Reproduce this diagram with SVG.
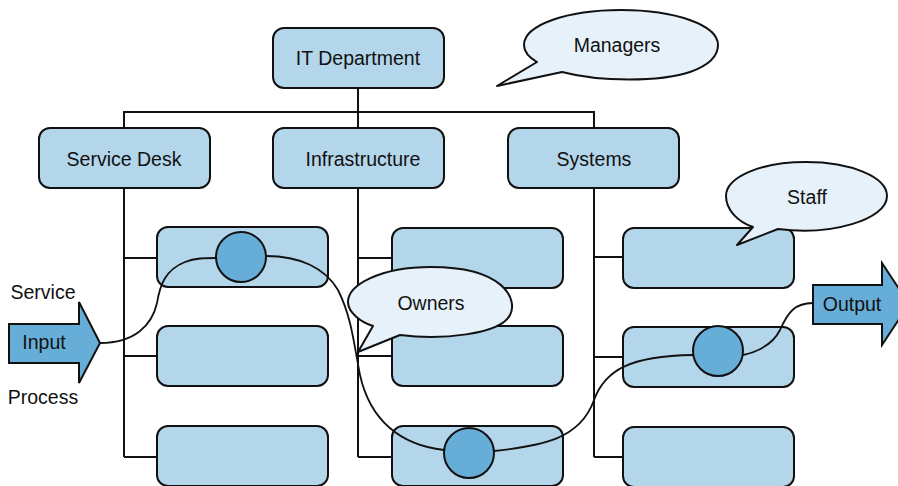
<svg xmlns="http://www.w3.org/2000/svg" width="898" height="486" viewBox="0 0 898 486">
<style>
.box{fill:#b4d6eb;stroke:#111;stroke-width:2}
.dot{fill:#66aed8;stroke:#111;stroke-width:2}
.arrow{fill:#66aed8;stroke:#111;stroke-width:2;stroke-linejoin:miter}
.call{fill:#e6f1fa;stroke:#111;stroke-width:2;stroke-linejoin:round}
.ln{fill:none;stroke:#111;stroke-width:2}
.flow{fill:none;stroke:#111;stroke-width:1.8}
text{font-family:"Liberation Sans",Arial,sans-serif;font-size:19.5px;fill:#111;text-anchor:middle}
</style>
<rect width="898" height="486" fill="#fff"/>
<g id="connectors">
<path class="ln" d="M358 88V128M124 128V112H594V128"/>
<path class="ln" d="M124 188V457M124 258H157M124 356H157M124 457H157"/>
<path class="ln" d="M358 188V457M358 258H392M358 356H392M358 457H392"/>
<path class="ln" d="M594 188V457M594 257H623M594 357H623M594 457H623"/>
</g>
<g id="it-department"><rect class="box" x="273" y="28" width="171" height="60" rx="11"/><text x="358" y="65">IT Department</text></g>
<g id="service-desk"><rect class="box" x="39" y="128" width="171" height="60" rx="11"/><text x="124" y="166">Service Desk</text></g>
<g id="infrastructure"><rect class="box" x="273" y="128" width="171" height="60" rx="11"/><text x="363" y="166">Infrastructure</text></g>
<g id="systems"><rect class="box" x="508" y="128" width="171" height="60" rx="11"/><text x="594" y="166">Systems</text></g>
<g id="sd-1"><rect class="box" x="157" y="227" width="171" height="60" rx="11"/></g>
<g id="sd-2"><rect class="box" x="157" y="326" width="171" height="60" rx="11"/></g>
<g id="sd-3"><rect class="box" x="157" y="426" width="171" height="60" rx="11"/></g>
<g id="inf-1"><rect class="box" x="392" y="228" width="171" height="60" rx="11"/></g>
<g id="inf-2"><rect class="box" x="392" y="326" width="171" height="60" rx="11"/></g>
<g id="inf-3"><rect class="box" x="392" y="426" width="171" height="60" rx="11"/></g>
<g id="sys-1"><rect class="box" x="623" y="228" width="171" height="60" rx="11"/></g>
<g id="sys-2"><rect class="box" x="623" y="327" width="171" height="60" rx="11"/></g>
<g id="sys-3"><rect class="box" x="623" y="427" width="171" height="60" rx="11"/></g>
<g id="managers"><path class="call" d="M537 62 L497 86 L562 72 C600 82 660 82 690 72 C710 65 718 55 718 45 C718 25 675 10 621 10 C567 10 524 25 524 45 C524 52 530 58 537 62 Z"/><text x="617" y="52">Managers</text></g>
<g id="staff"><path class="call" d="M753 227 L737 245 L778 229 C830 236 887 220 887 196 C887 177 851 162 806 162 C761 162 726 177 726 196 C726 210 738 222 753 227 Z"/><text x="807" y="204">Staff</text></g>
<g id="owners"><path class="call" d="M373 326 L358 352 L400 335 C440 340 500 335 510 315 C518 300 505 267 431 267 C380 267 348 285 348 302 C348 312 360 322 373 326 Z"/><text x="431" y="310">Owners</text></g>
<g id="input"><polygon class="arrow" points="9,324 79,324 79,302 100,343 79,383 79,363 9,363"/><text x="44" y="349">Input</text></g>
<g id="output"><polygon class="arrow" points="813,285 882,285 882,263 909,304 882,345 882,324 813,324"/><text x="852" y="311">Output</text></g>
<g id="labels"><text x="43" y="299">Service</text><text x="43" y="404">Process</text></g>
<g id="flow">
<path class="flow" d="M100 343 C135 343 152 325 157 303 C160 285 165 270 185 262 C195 258 205 258 216 258"/>
<path class="flow" d="M266 256 C300 256 325 268 338 290 C352 318 354 345 360 375 C370 420 400 445 444 450"/>
<path class="flow" d="M494 451 C540 446 580 440 594 400 C605 370 630 356 693 355"/>
<path class="flow" d="M743 355 C765 350 775 340 780 330 C788 312 795 303 813 303"/>
</g>
<g id="nodes-circles">
<circle class="dot" cx="241" cy="257" r="25"/>
<circle class="dot" cx="469" cy="453" r="25"/>
<circle class="dot" cx="718" cy="351" r="25"/>
</g>
</svg>
